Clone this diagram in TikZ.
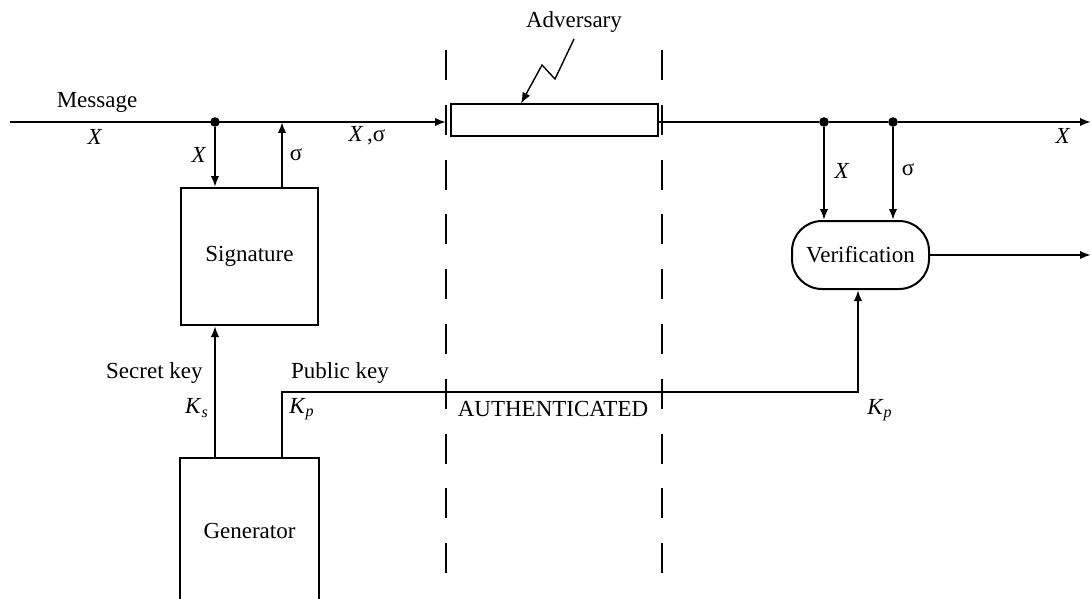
\documentclass[tikz,border=0pt]{standalone}
\usepackage{fontspec}
\setmainfont{Liberation Serif}
\usetikzlibrary{arrows.meta}
\begin{document}
\begin{tikzpicture}[x=0.5pt,y=-0.5pt,
  wire/.style={line width=1pt},
  arr/.style={wire,-{Latex[length=5.5pt,width=4.2pt]}},
  lbl/.style={font=\fontsize{11.5}{13}\selectfont, inner sep=0pt},
  blockbox/.style={draw,line width=1pt,minimum width=68.5pt,minimum height=68.5pt,
    inner sep=0pt,font=\fontsize{11.5}{13}\selectfont},
  dot/.style={circle,fill,inner sep=0pt,minimum size=4.8pt},
  zone/.style={line width=1pt,dash pattern=on 15pt off 12.4pt}
]
\useasboundingbox (0,0) rectangle (1092,599);

% blocks
\node[blockbox] (sig) at (249.5,256.5) {Signature};
\node[blockbox,draw=none,minimum height=72pt] (gen) at (249.5,531) {Generator};
\draw[line width=1pt] (gen.south west) -- (gen.north west) -- (gen.north east) -- (gen.south east);
\node[draw,line width=1pt,rounded corners=15pt,minimum width=68.5pt,minimum height=34pt,
  inner sep=0pt,font=\fontsize{11.5}{13}\selectfont] (ver) at (860.5,255) {Verification};
\node[draw,line width=1pt,minimum width=103.5pt,minimum height=16pt,inner sep=0pt] (adv) at (554.5,120.5) {};

% trust boundary
\coordinate (zl0) at (446,50);  \coordinate (zl1) at (446,575);
\coordinate (zr0) at (662,50);  \coordinate (zr1) at (662,575);
\draw[zone] (zl0) -- (zl1);
\draw[zone] (zr0) -- (zr1);

% main channel
\coordinate (in) at (10,122);
\coordinate (advin) at (446,122);
\coordinate (out) at (1091,122);
\coordinate (sigout) at (282,122);
\node[dot] (d1) at (215,122) {};
\node[dot] (d2) at (824,122) {};
\node[dot] (d3) at (893,122) {};
\draw[arr] (in) -- (advin);
\draw[wire] (adv.east |- out) -- (d2) -- (d3);
\draw[arr] (d3) -- (out);

\draw[arr] (d1) -- (d1 |- sig.north);
\draw[arr] (sig.north -| sigout) -- (sigout);
\draw[arr] (d2) -- (d2 |- ver.north);
\draw[arr] (d3) -- (d3 |- ver.north);
\draw[arr] (ver.east) -- (ver.east -| out);

% keys
\coordinate (pk) at (858,392);
\draw[arr] (gen.north -| d1) -- (sig.south -| d1);
\draw[arr] (gen.north -| sigout) |- (pk) -- (ver.south -| pk);

% adversary attack
\coordinate (z0) at (574,39);
\coordinate (z1) at (555,79);
\coordinate (z2) at (542,65);
\draw[line width=0.7pt,-{Latex[length=5.5pt,width=4.2pt]}] (z0) -- (z1) -- (z2) -- (adv.north -| 521,0);

% labels
\node[lbl] (tmsg) at (97,102) {Message};
\node[lbl] (tx0) at (95,137) {\textit{X}};
\node[lbl] (tx1) at (199,155) {\textit{X}};
\node[lbl] (ts1) at (296,155) {σ};
\node[lbl] (txs) at (367,136) {\textit{X}\,,σ};
\node[lbl] (tx2) at (842,171) {\textit{X}};
\node[lbl] (ts2) at (908,170) {σ};
\node[lbl] (tx3) at (1063,136) {\textit{X}};
\node[lbl] (tadv) at (574,22) {Adversary};
\node[lbl,anchor=east] (tsk) at (203,373) {Secret key};
\node[lbl] (tks) at (197,408) {\textit{K}\textsubscript{\textit{s}}};
\node[lbl] (tpk) at (340,373) {Public key};
\node[lbl] (tkp1) at (302,409) {\textit{K}\textsubscript{\textit{p}}};
\node[lbl] (tauth) at (553,409) {AUTHENTICATED};
\node[lbl] (tkp2) at (880,410) {\textit{K}\textsubscript{\textit{p}}};
\end{tikzpicture}
\end{document}
